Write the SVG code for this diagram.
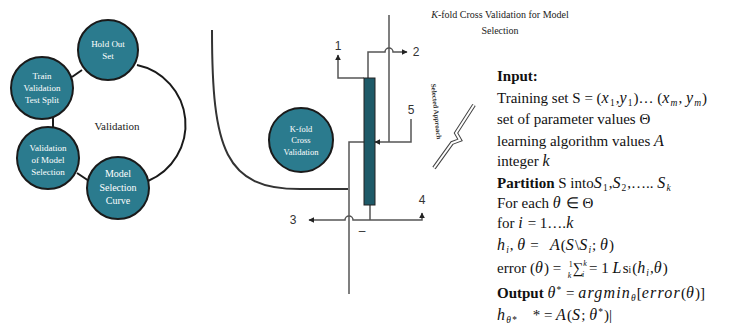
<svg xmlns="http://www.w3.org/2000/svg" width="737" height="331" viewBox="0 0 737 331">
<defs>
<marker id="ah" viewBox="0 0 10 10" refX="9" refY="5" markerWidth="6" markerHeight="6" orient="auto-start-reverse" markerUnits="userSpaceOnUse">
<path d="M0,0 L10,5 L0,10 z" fill="#222"/>
</marker>
<style>
.node{fill:#2b7b8e;stroke:#1a1a1a;stroke-width:2}
.nt{font-family:"Liberation Serif",serif;fill:#fff;font-size:9px;text-anchor:middle}
.ring{fill:none;stroke:#1a1a1a;stroke-width:2}
.wire{fill:none;stroke:#555;stroke-width:1.5}
.lbl{font-family:"Liberation Sans",sans-serif;font-size:12px;fill:#333;text-anchor:middle}
.tx{font-family:"Liberation Serif",serif;font-size:15px;fill:#111}
.m{font-style:italic;font-size:16px;letter-spacing:1.2px}
.b{font-weight:bold}
.sub{font-size:9.5px;letter-spacing:1px}
.fr{font-size:8px}
</style>
</defs>
<rect width="737" height="331" fill="#fff"/>

<g id="connectors">
<path class="ring" d="M137,65 A61,61 0 0 1 148,181"/>
<line class="ring" x1="72" y1="77" x2="82" y2="70"/>
<line class="ring" x1="53" y1="118" x2="53" y2="128"/>
<line class="ring" x1="77" y1="173" x2="89" y2="181"/>
<path d="M212,30 C212,150 225,189 300,189 L348,189" fill="none" stroke="#333" stroke-width="2"/>
<path class="wire" d="M349,294 L349,142 L364,142"/>
<path class="wire" d="M309,220 L345,220 A4,4 0 0 1 353,220 L422,220 L422,213" marker-start="url(#ah)" marker-end="url(#ah)"/>
<line class="wire" x1="370" y1="205" x2="370" y2="220" stroke="#333"/>
<path class="wire" d="M364,78 L338,78 L338,55" marker-end="url(#ah)"/>
<path class="wire" d="M368,78 L368,52 L385,52 A4,4 0 0 1 393,52 L407,52" marker-end="url(#ah)"/>
<path class="wire" d="M389,15 L389,142"/>
<path class="wire" d="M411,119 L411,142 L375,142" marker-end="url(#ah)"/>
<path d="M434,168 L452,143 L460,140 L456,133 L474,105" fill="none" stroke="#444" stroke-width="4"/>
<path d="M434,168 L452,143 L460,140 L456,133 L474,105" fill="none" stroke="#fff" stroke-width="2"/>
</g>

<g id="holdout">
<circle class="node" cx="108" cy="50" r="30"/>
<text class="nt" x="108" y="47">Hold Out</text>
<text class="nt" x="108" y="59">Set</text>
</g>
<g id="trainsplit">
<circle class="node" cx="42" cy="88" r="31"/>
<text class="nt" x="42" y="79">Train</text>
<text class="nt" x="42" y="91">Validation</text>
<text class="nt" x="42" y="103">Test Split</text>
</g>
<g id="validmodel">
<circle class="node" cx="48" cy="158" r="31"/>
<text class="nt" x="48" y="151">Validation</text>
<text class="nt" x="48" y="163">of Model</text>
<text class="nt" x="48" y="175">Selection</text>
</g>
<g id="curve">
<circle class="node" cx="118" cy="188" r="31"/>
<text class="nt" x="118" y="177" style="font-size:10px">Model</text>
<text class="nt" x="118" y="191" style="font-size:10px">Selection</text>
<text class="nt" x="118" y="204" style="font-size:10px">Curve</text>
</g>
<g id="validation-label">
<text x="117" y="130" style="font-family:'Liberation Serif',serif;font-size:11px;fill:#222;text-anchor:middle">Validation</text>
</g>

<g id="kfold">
<circle class="node" cx="301" cy="140" r="32"/>
<text class="nt" x="301" y="132" style="font-size:8.5px">K-fold</text>
<text class="nt" x="301" y="143" style="font-size:8.5px">Cross</text>
<text class="nt" x="301" y="155" style="font-size:8.5px">Validation</text>
</g>

<g id="bar">
<rect x="364" y="78" width="11" height="127" fill="#1e5a68" stroke="#222" stroke-width="1"/>
</g>

<g id="labels">
<text class="lbl" x="338" y="50">1</text>
<text class="lbl" x="416" y="56">2</text>
<text class="lbl" x="293" y="224">3</text>
<text class="lbl" x="422" y="204">4</text>
<text class="lbl" x="411" y="114">5</text>
<text class="lbl" x="362" y="235">–</text>
</g>

<g id="title">
<text x="500" y="18" style="font-family:'Liberation Serif',serif;font-size:10px;fill:#222;text-anchor:middle"><tspan font-style="italic">K</tspan>-fold Cross Validation for Model</text>
<text x="500" y="34" style="font-family:'Liberation Serif',serif;font-size:10px;fill:#222;text-anchor:middle">Selection</text>
</g>

<g id="selected">
<text transform="translate(431,84) rotate(84)" style="font-family:'Liberation Serif',serif;font-size:7px;font-weight:bold;fill:#333">Selected Approach</text>
</g>

<g id="algorithm">
<text class="tx b" x="497" y="81">Input:</text>
<text class="tx" x="497" y="103">Training set S = (<tspan class="m">x</tspan><tspan class="sub" dy="3">1</tspan><tspan dy="-3">,</tspan><tspan class="m">y</tspan><tspan class="sub" dy="3">1</tspan><tspan dy="-3">)… (</tspan><tspan class="m">x</tspan><tspan class="m sub" dy="3">m</tspan><tspan dy="-3">, </tspan><tspan class="m">y</tspan><tspan class="m sub" dy="3">m</tspan><tspan dy="-3">)</tspan></text>
<text class="tx" x="497" y="124">set of parameter values Θ</text>
<text class="tx" x="497" y="146">learning algorithm values <tspan class="m">A</tspan></text>
<text class="tx" x="497" y="166">integer <tspan class="m">k</tspan></text>
<text class="tx" x="497" y="188"><tspan class="b">Partition</tspan> S into<tspan class="m">S</tspan><tspan class="sub" dy="3">1</tspan><tspan dy="-3">,</tspan><tspan class="m">S</tspan><tspan class="sub" dy="3">2</tspan><tspan dy="-3">,….. </tspan><tspan class="m">S</tspan><tspan class="m sub" dy="3">k</tspan></text>
<text class="tx" x="497" y="208">For each <tspan class="m">θ</tspan> ∈ Θ</text>
<text class="tx" x="497" y="228">for <tspan class="m">i</tspan> = 1….<tspan class="m">k</tspan></text>
<text class="tx" x="497" y="250"><tspan class="m">h</tspan><tspan class="m sub" dy="3">i</tspan><tspan dy="-3">, </tspan><tspan class="m">θ</tspan>&#160;=&#160;&#160;&#160;<tspan class="m">A</tspan>(<tspan class="m">S</tspan>\<tspan class="m">S</tspan><tspan class="m sub" dy="3">i</tspan><tspan dy="-3">; </tspan><tspan class="m">θ</tspan>)</text>
<text class="tx" x="497" y="273">error (<tspan class="m">θ</tspan>)&#160;=&#160;&#160;<tspan class="fr" dy="-6">1</tspan><tspan class="fr m" dx="-5" dy="11">k</tspan><tspan dy="-5">∑</tspan><tspan class="fr m" dy="-7">k</tspan><tspan class="fr m" dx="-6" dy="11">i</tspan><tspan dy="-4">&#160;= 1&#160;</tspan><tspan class="m">L</tspan>s<tspan class="sub">i</tspan>(<tspan class="m">h</tspan><tspan class="m sub" dy="3">i</tspan><tspan dy="-3">,</tspan><tspan class="m">θ</tspan>)</text>
<text class="tx" x="497" y="298"><tspan class="b">Output</tspan> <tspan class="m">θ</tspan><tspan class="sub" dy="-5">*</tspan><tspan dy="5">&#160;=&#160;</tspan><tspan class="m">argmin</tspan><tspan class="m sub" dy="3">θ</tspan><tspan dy="-3">[</tspan><tspan class="m">error</tspan>(<tspan class="m">θ</tspan>)]</text>
<text class="tx" x="497" y="320"><tspan class="m">h</tspan><tspan class="m sub" dy="3">θ*</tspan><tspan dy="-3">&#160;&#160;&#160;&#160;*&#160;=&#160;</tspan><tspan class="m">A</tspan>(<tspan class="m">S</tspan>; <tspan class="m">θ</tspan><tspan class="sub" dy="-5">*</tspan><tspan dy="5">)|</tspan></text>
</g>
</svg>
